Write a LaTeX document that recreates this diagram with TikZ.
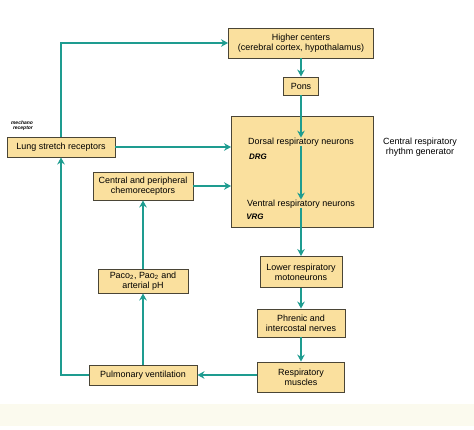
\documentclass[tikz,border=0pt]{standalone}
\usepackage{fontspec}
\setmainfont{Liberation Sans}
\usetikzlibrary{arrows.meta}
\definecolor{boxfill}{HTML}{FAE09E}
\definecolor{boxline}{HTML}{4A4536}
\definecolor{linkteal}{HTML}{1E9C90}
\definecolor{bandfill}{HTML}{FBFAEE}
\tikzset{
  box/.style={draw=boxline, fill=boxfill, line width=0.9bp, align=center,
    inner sep=0pt, font=\fontsize{9}{10.2}\selectfont},
  plain/.style={align=center, inner sep=0pt, font=\fontsize{9}{10.2}\selectfont},
  hand/.style={inner sep=0pt, font=\fontsize{8}{8.5}\selectfont\bfseries\itshape},
  conn/.style={draw=linkteal, line width=1.5bp}
}
\begin{document}
\begin{tikzpicture}[x=1bp, y=-1bp, >={Stealth[length=7bp,width=7.5bp]}]
  \useasboundingbox (0,0) rectangle (474,429);
  % bottom band
  \fill[bandfill] (0,404) rectangle (474,426);

  % central column
  \node[box, minimum width=145bp, minimum height=30bp] (higher) at (301,43)
    {Higher centers\\(cerebral cortex, hypothalamus)};
  \node[box, minimum width=35bp, minimum height=18bp] (pons) at (301,86) {Pons};
  \node[box, minimum width=142bp, minimum height=111bp] (crg) at (302.5,171.5) {};
  \node[plain] (dorsal) at (301,142) {Dorsal respiratory neurons};
  \node[plain] (ventral) at (301,204) {Ventral respiratory neurons};
  \node[hand] (drg) at (258,157) {DRG};
  \node[hand] (vrg) at (255,217) {VRG};
  \node[plain] (rhythm) at (420,147) {Central respiratory\\rhythm generator};
  \node[box, minimum width=82bp, minimum height=31bp] (lower) at (301,272)
    {Lower respiratory\\motoneurons};
  \node[box, minimum width=88bp, minimum height=28bp] (phrenic) at (301,323)
    {Phrenic and\\intercostal nerves};
  \node[box, minimum width=87bp, minimum height=30bp] (muscles) at (301,377)
    {Respiratory\\muscles};

  % left column
  \node[box, minimum width=108bp, minimum height=20bp] (lung) at (61,147)
    {Lung stretch receptors};
  \node[hand, font=\fontsize{5}{5.2}\selectfont\bfseries\itshape, align=right] (mech) at (22,126)
    {mechano\\receptor};
  \node[box, minimum width=100bp, minimum height=28bp] (chemo) at (143,186)
    {Central and peripheral\\chemoreceptors};
  \node[box, minimum width=90bp, minimum height=24bp] (blood) at (143,281)
    {Paco\textsubscript{2}, Pao\textsubscript{2} and\\arterial pH};
  \node[box, minimum width=108bp, minimum height=20bp] (pulm) at (143,375)
    {Pulmonary ventilation};

  % connectors
  \draw[conn,->] (higher) -- (pons);
  \draw[conn,->] (pons) -- (dorsal);
  \draw[conn,->] (dorsal) -- (ventral);
  \draw[conn,->] (ventral) -- (lower);
  \draw[conn,->] (lower) -- (phrenic);
  \draw[conn,->] (phrenic) -- (muscles);
  \draw[conn,->] (muscles.west |- pulm.east) -- (pulm.east);
  \draw[conn,->] (pulm) -- (blood);
  \draw[conn,->] (blood) -- (chemo);
  \draw[conn,->] (chemo.east) -- (chemo.east -| crg.west);
  \draw[conn,->] (lung.east) -- (lung.east -| crg.west);
  \draw[conn,->] (lung.north) |- (higher.west);
  \draw[conn,->] (pulm.west) -| (lung.south);
\end{tikzpicture}
\end{document}
